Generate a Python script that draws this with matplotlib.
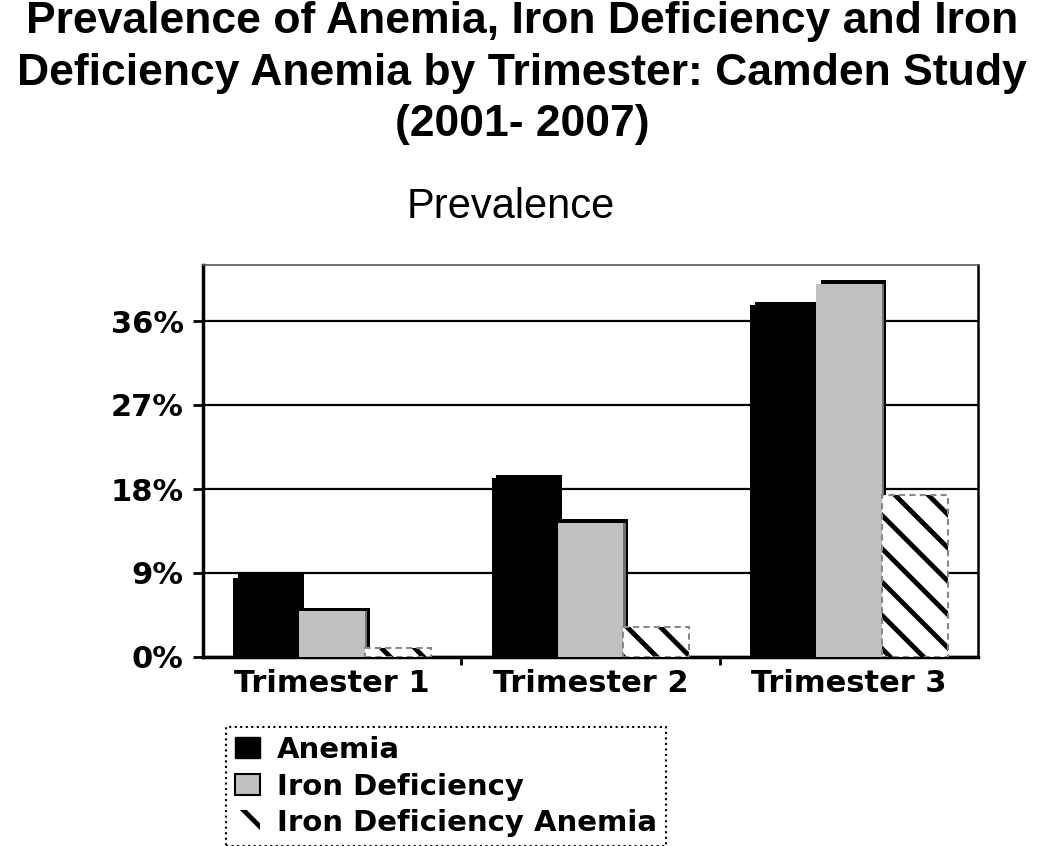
import matplotlib
matplotlib.use("Agg")
import matplotlib.pyplot as plt
from matplotlib.patches import Patch
import numpy as np

categories = ["Trimester 1", "Trimester 2", "Trimester 3"]
series_names = ["Anemia", "Iron Deficiency", "Iron Deficiency Anemia"]
anemia = [8.5, 19.2, 37.7]
iron_def = [4.9, 14.4, 40.0]
ida = [1.0, 3.2, 17.4]
y_ticks = [0, 9, 18, 27, 36]
y_tick_labels = ["0%", "9%", "18%", "27%", "36%"]

plt.rcParams['hatch.linewidth'] = 3.5

fig = plt.figure(figsize=(10.5, 8.46), dpi=100)
ax = fig.add_axes([203/1050, 1-657/846, (978-203)/1050, (657-265)/846])

x = np.arange(len(categories))
w = 0.255
dx = 0.018
dy = 0.35

# Anemia (shadow + bar)
ax.bar(x - w + dx, np.array(anemia) + dy, w, color="black", zorder=2)
ax.bar(x - w, anemia, w, color="black", zorder=3)
# Iron deficiency (shadow + bar)
ax.bar(x + dx, np.array(iron_def) + dy, w, color="black", zorder=2)
ax.bar(x + dx * 0.5, np.array(iron_def), w, color="#707070", zorder=2.5)
ax.bar(x, iron_def, w, color="#c0c0c0", zorder=3)
# Iron deficiency anemia (hatched)
ax.bar(x + w, ida, w, color="white", edgecolor="black", hatch="\\", linewidth=0, zorder=3)
ax.bar(x + w, ida, w, fill=False, edgecolor="#888888", linestyle=(0, (3, 2)), linewidth=1.5, zorder=4)

ax.set_xlim(-0.5, 2.5)
ax.set_ylim(0, 42)
ax.set_yticks(y_ticks)
ax.set_yticklabels(y_tick_labels, fontfamily="DejaVu Sans", fontweight="bold", fontsize=22)
ax.set_xticks(x)
ax.set_xticklabels(categories, fontfamily="DejaVu Sans", fontweight="bold", fontsize=22)
ax.set_xticks([0.5, 1.5], minor=True)
ax.tick_params(axis="x", which="major", length=0, pad=9)
ax.tick_params(axis="x", which="minor", length=6, width=2, direction="out")
ax.tick_params(axis="y", which="major", length=7, width=2, direction="out", pad=7)

ax.yaxis.grid(True, color="black", linewidth=1.6)
ax.set_axisbelow(True)
for s in ["left", "bottom"]:
    ax.spines[s].set_linewidth(2.5)
    ax.spines[s].set_color("black")
ax.spines["right"].set_linewidth(1.8)
ax.spines["right"].set_color("black")
ax.spines["top"].set_linewidth(1.2)
ax.spines["top"].set_color("#555555")

fig.text(0.497, 1 - 1/846,
         "Prevalence of Anemia, Iron Deficiency and Iron\nDeficiency Anemia by Trimester: Camden Study\n(2001- 2007)",
         ha="center", va="top", fontfamily="Liberation Sans", fontweight="bold", fontsize=32,
         linespacing=1.33)
fig.text(511/1050, 1 - 218/846, "Prevalence", ha="center", va="baseline",
         fontfamily="Liberation Sans", fontsize=30)

handles = [
    Patch(facecolor="black", edgecolor="black"),
    Patch(facecolor="#c0c0c0", edgecolor="black", linewidth=1.5),
    Patch(facecolor="white", edgecolor="black", hatch="\\", linewidth=0),
]
leg = fig.legend(handles, series_names, loc="upper left",
                 bbox_to_anchor=(226/1050, 1 - 727/846),
                 prop={"family": "DejaVu Sans", "weight": "bold", "size": 21},
                 fancybox=False, borderaxespad=0, handlelength=0.85, handleheight=0.75,
                 handletextpad=0.6, labelspacing=0.3, borderpad=0.3, framealpha=1)
leg.get_frame().set_linestyle(":")
leg.get_frame().set_linewidth(1.5)
leg.get_frame().set_edgecolor("black")

fig.savefig("out.png", dpi=100)
